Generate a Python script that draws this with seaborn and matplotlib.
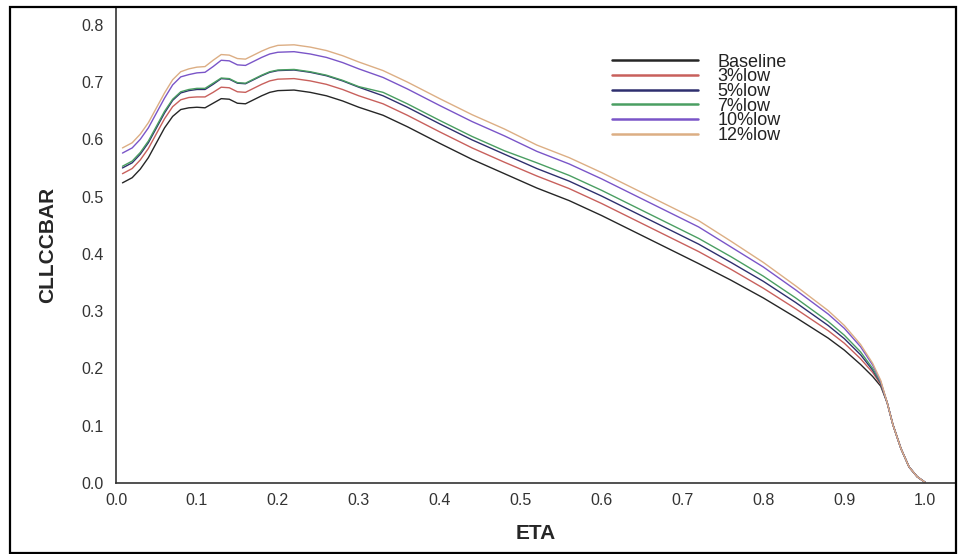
import numpy as np
import pandas as pd
import matplotlib
matplotlib.use("Agg")
import matplotlib.pyplot as plt
from matplotlib.patches import Rectangle
from matplotlib.lines import Line2D
import seaborn as sns

eta = [0.008, 0.02, 0.03, 0.04, 0.05, 0.06, 0.07, 0.08, 0.09, 0.10,
       0.11, 0.12, 0.13, 0.14, 0.15, 0.16, 0.17, 0.18, 0.19, 0.20,
       0.22, 0.24, 0.26, 0.28, 0.30, 0.33, 0.36, 0.40, 0.44, 0.48,
       0.52, 0.56, 0.60, 0.64, 0.68, 0.72, 0.76, 0.80, 0.84, 0.88,
       0.90, 0.92, 0.935, 0.945, 0.953, 0.96, 0.97, 0.98, 0.99, 1.0]

baseline = [0.524, 0.533, 0.548, 0.568, 0.594, 0.620, 0.640, 0.652, 0.655, 0.656,
            0.655, 0.663, 0.671, 0.670, 0.663, 0.662, 0.669, 0.676, 0.682, 0.685,
            0.686, 0.682, 0.676, 0.667, 0.656, 0.642, 0.622, 0.593, 0.565, 0.540,
            0.515, 0.493, 0.467, 0.439, 0.411, 0.383, 0.354, 0.323, 0.289, 0.253,
            0.232, 0.207, 0.186, 0.169, 0.140, 0.102, 0.060, 0.028, 0.011, 0.001]

low3 = [0.540, 0.549, 0.564, 0.584, 0.610, 0.636, 0.657, 0.669, 0.673, 0.674,
        0.674, 0.682, 0.691, 0.690, 0.683, 0.682, 0.689, 0.696, 0.702, 0.705,
        0.706, 0.702, 0.696, 0.687, 0.676, 0.662, 0.642, 0.613, 0.585, 0.560,
        0.536, 0.514, 0.488, 0.460, 0.432, 0.404, 0.373, 0.340, 0.304, 0.266,
        0.244, 0.217, 0.193, 0.172, 0.140, 0.102, 0.060, 0.028, 0.011, 0.001]

low5 = [0.550, 0.559, 0.574, 0.594, 0.620, 0.646, 0.668, 0.681, 0.685, 0.687,
        0.687, 0.696, 0.706, 0.705, 0.698, 0.697, 0.704, 0.711, 0.717, 0.720,
        0.721, 0.717, 0.711, 0.702, 0.691, 0.676, 0.656, 0.627, 0.599, 0.574,
        0.549, 0.527, 0.501, 0.473, 0.445, 0.417, 0.385, 0.352, 0.315, 0.275,
        0.252, 0.224, 0.197, 0.174, 0.140, 0.102, 0.060, 0.028, 0.011, 0.001]

low7 = [0.553, 0.562, 0.577, 0.597, 0.623, 0.649, 0.670, 0.683, 0.687, 0.689,
        0.689, 0.698, 0.707, 0.706, 0.699, 0.698, 0.705, 0.712, 0.718, 0.721,
        0.722, 0.718, 0.712, 0.703, 0.692, 0.682, 0.662, 0.633, 0.605, 0.580,
        0.559, 0.537, 0.511, 0.483, 0.455, 0.427, 0.395, 0.361, 0.323, 0.282,
        0.258, 0.229, 0.200, 0.175, 0.140, 0.102, 0.060, 0.028, 0.011, 0.001]

low10 = [0.576, 0.585, 0.600, 0.620, 0.646, 0.672, 0.695, 0.709, 0.713, 0.716,
         0.717, 0.727, 0.738, 0.737, 0.730, 0.729, 0.736, 0.743, 0.749, 0.752,
         0.753, 0.749, 0.743, 0.734, 0.723, 0.708, 0.688, 0.659, 0.631, 0.606,
         0.579, 0.557, 0.531, 0.503, 0.475, 0.447, 0.412, 0.377, 0.337, 0.295,
         0.270, 0.238, 0.206, 0.177, 0.140, 0.102, 0.060, 0.028, 0.011, 0.001]

low12 = [0.585, 0.594, 0.609, 0.629, 0.655, 0.681, 0.704, 0.718, 0.723, 0.726,
         0.727, 0.738, 0.748, 0.747, 0.741, 0.740, 0.747, 0.754, 0.760, 0.764,
         0.765, 0.761, 0.755, 0.746, 0.735, 0.720, 0.700, 0.671, 0.643, 0.618,
         0.590, 0.568, 0.542, 0.514, 0.486, 0.458, 0.422, 0.385, 0.344, 0.301,
         0.275, 0.242, 0.209, 0.179, 0.140, 0.102, 0.060, 0.028, 0.011, 0.001]

series_names = ["Baseline", "3%low", "5%low", "7%low", "10%low", "12%low"]
series_values = [baseline, low3, low5, low7, low10, low12]
colors = ["#262626", "#c8605c", "#2e2f6e", "#4a9e62", "#7a55c8", "#dcae84"]

xticks = [0.0, 0.1, 0.2, 0.3, 0.4, 0.5, 0.6, 0.7, 0.8, 0.9, 1.0]
yticks = [0.0, 0.1, 0.2, 0.3, 0.4, 0.5, 0.6, 0.7, 0.8]

frames = []
for name, vals in zip(series_names, series_values):
    frames.append(pd.DataFrame({"ETA": eta, "CLLCCBAR": vals, "series": name}))
df = pd.concat(frames, ignore_index=True)

sns.set_theme(style="white")
plt.rcParams["font.family"] = ["Liberation Sans", "DejaVu Sans"]

W, H = 961, 554
fig = plt.figure(figsize=(W / 100, H / 100), dpi=100)
ax = fig.add_axes([116 / W, (H - 483) / H, (956 - 116) / W, (483 - 7) / H])

sns.lineplot(data=df, x="ETA", y="CLLCCBAR", hue="series", hue_order=series_names,
             palette=colors, estimator=None, sort=False, linewidth=1.0, ax=ax,
             legend=False)

ax.set_xlim(0, 1.038)
ax.set_ylim(0, 0.831)
ax.set_xticks(xticks)
ax.set_xticklabels([f"{t:.1f}" for t in xticks])
ax.set_yticks(yticks)
ax.set_yticklabels([f"{t:.1f}" for t in yticks])

for s in ["top", "right"]:
    ax.spines[s].set_visible(False)
for s in ["left", "bottom"]:
    ax.spines[s].set_color("#333333")
    ax.spines[s].set_linewidth(1.2)

ax.tick_params(axis="both", which="major", direction="out", length=5, width=1,
               color="#333333", labelsize=11.5, labelcolor="#333333")
ax.tick_params(axis="y", pad=4)
ax.tick_params(axis="x", pad=2)

label_font = ["Liberation Sans Narrow", "Liberation Sans", "DejaVu Sans"]
ax.set_xlabel("ETA", fontsize=15, fontweight="bold", family=label_font, labelpad=12)
ax.set_ylabel("CLLCCBAR", fontsize=15, fontweight="bold", family=label_font, labelpad=17)

handles = [Line2D([0], [0], color=c, lw=1.8) for c in colors]
leg = ax.legend(handles, series_names, loc="upper left",
                bbox_to_anchor=((599 - 116) / 840, (483 - 41) / 476),
                frameon=False, fontsize=13, labelspacing=-0.13,
                handlelength=4.8, handletextpad=1.05, borderpad=0.2)
for t in leg.get_texts():
    t.set_color("#222222")

fig.patches.append(Rectangle((10 / W, 1.5 / H), (956 - 10) / W, (547 - 1.5) / H,
                             transform=fig.transFigure, fill=False,
                             edgecolor="black", linewidth=1.6))

fig.savefig("out.png", dpi=100)
